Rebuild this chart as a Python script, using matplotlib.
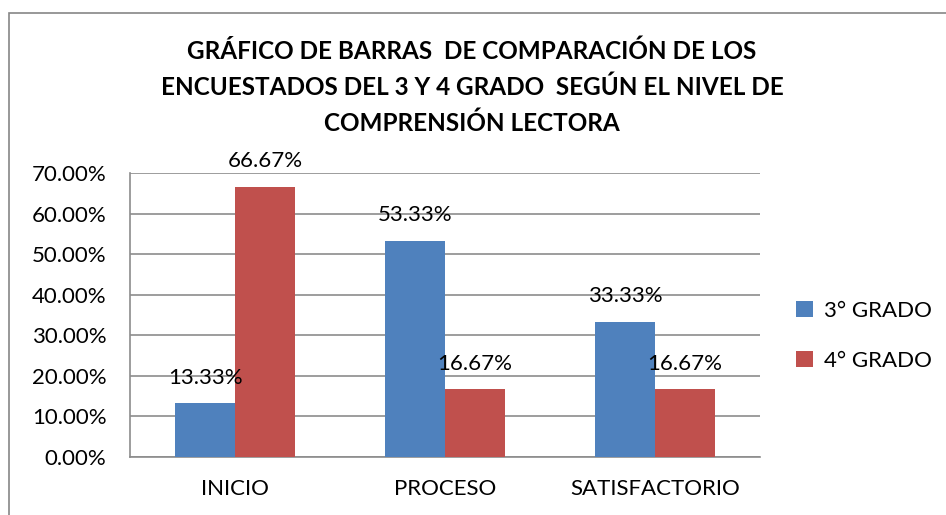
import matplotlib
matplotlib.use("Agg")
import matplotlib.pyplot as plt
from matplotlib.patches import Rectangle
import numpy as np

categories = ["INICIO", "PROCESO", "SATISFACTORIO"]
grado3 = [13.33, 53.33, 33.33]
grado4 = [66.67, 16.67, 16.67]
series_names = ["3° GRADO", "4° GRADO"]
yticks = [0, 10, 20, 30, 40, 50, 60, 70]
title = ("GRÁFICO DE BARRAS  DE COMPARACIÓN DE LOS\n"
         "ENCUESTADOS DEL 3 Y 4 GRADO  SEGÚN EL NIVEL DE\n"
         "COMPRENSIÓN LECTORA")

plt.rcParams['font.family'] = ['Lato', 'DejaVu Sans']
W, H = 946, 515
fig = plt.figure(figsize=(W / 100, H / 100), dpi=100)

# outer chart frame
fig.patches.append(Rectangle((9 / W, -0.1), 1.2, (H - 13) / H + 0.1,
                             transform=fig.transFigure, fill=False,
                             edgecolor='#868686', linewidth=1.2))

ax = fig.add_axes([130 / W, (H - 457) / H, (760 - 130) / W, (457 - 173) / H])
x = np.arange(len(categories))
bw = 0.285
blue = '#4F81BD'
red = '#C0504D'
b1 = ax.bar(x - bw / 2, grado3, bw, color=blue, label=series_names[0], zorder=3)
b2 = ax.bar(x + bw / 2, grado4, bw, color=red, label=series_names[1], zorder=3)

fs = 16
for bars, vals in ((b1, grado3), (b2, grado4)):
    for r, v in zip(bars, vals):
        ax.annotate(f"{v:.2f}%", (r.get_x() + r.get_width() / 2, v),
                    xytext=(0, 11), textcoords='offset points',
                    ha='center', va='bottom', fontsize=fs, zorder=4)

ax.set_xlim(-0.5, 2.5)
ax.set_ylim(0, 70)
ax.set_yticks(yticks)
ax.set_yticklabels([f"{t:.2f}%" for t in yticks], fontsize=fs)
ax.set_xticks(x)
ax.set_xticklabels(categories, fontsize=fs)
ax.tick_params(axis='y', length=0, pad=17)
ax.tick_params(axis='x', length=0, pad=16)
ax.grid(axis='y', color='#8C8C8C', linewidth=1.2, zorder=0)
for s in ('top', 'right'):
    ax.spines[s].set_visible(False)
ax.spines['left'].set_color('#8C8C8C')
ax.spines['left'].set_linewidth(1.2)
ax.spines['bottom'].set_color('#8C8C8C')
ax.spines['bottom'].set_linewidth(1.2)

fig.text(472 / W, (H - 87) / H, title, ha='center', va='center',
         fontsize=17.5, fontweight='bold', linespacing=1.65)

leg = fig.legend(handles=[b1, b2], labels=series_names,
                 loc='center left', bbox_to_anchor=(776 / W, (H - 336) / H),
                 frameon=False, fontsize=fs, handlelength=0.75, handleheight=0.75,
                 handletextpad=0.5, labelspacing=1.35)

fig.savefig("out.png", dpi=100)
